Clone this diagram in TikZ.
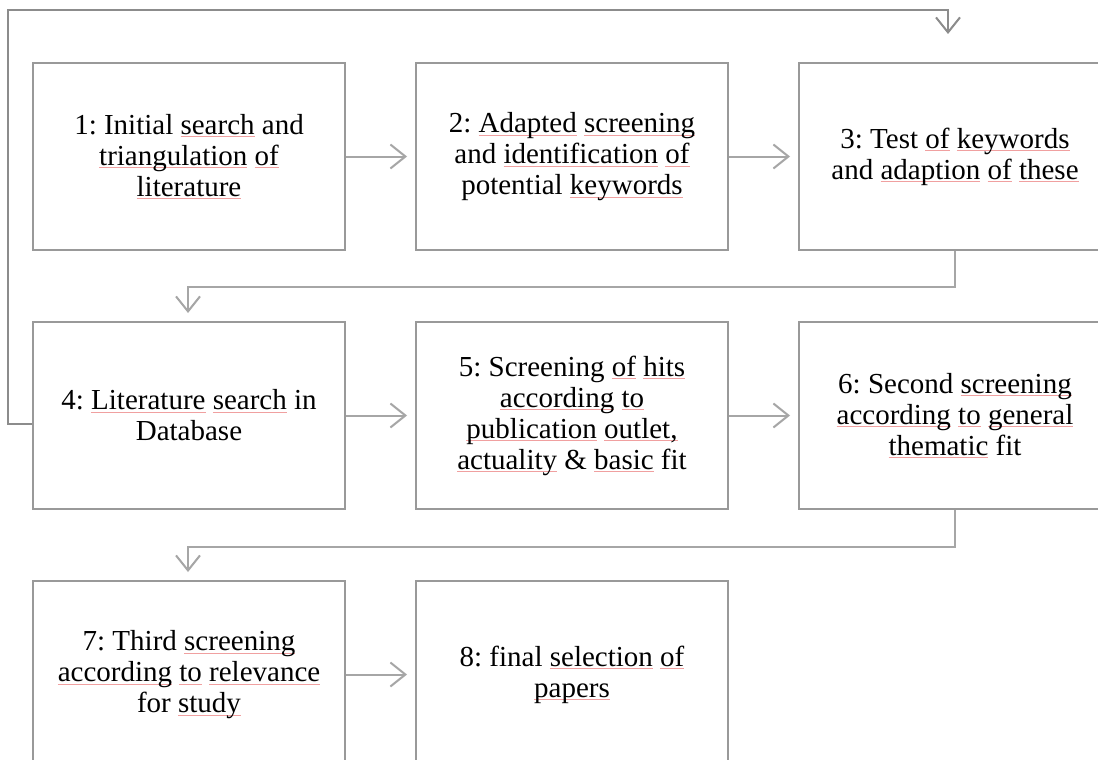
\documentclass[tikz,border=0pt]{standalone}
\usepackage{fontspec}
\setmainfont{Liberation Serif}
\usetikzlibrary{arrows.meta}
\definecolor{boxgray}{RGB}{153,153,153}
\definecolor{arrgray}{RGB}{166,166,166}
\definecolor{loopgray}{RGB}{140,140,140}
\definecolor{spellred}{RGB}{240,160,160}
\newsavebox\wvlbox
\newcommand\wvl[1]{\leavevmode\sbox\wvlbox{#1}\rlap{\color{spellred}\rule[-3pt]{\wd\wvlbox}{0.8pt}}\usebox\wvlbox}
\tikzset{
  stepbox/.style={draw=boxgray, line width=2pt, minimum width=312pt, minimum height=187pt,
    inner sep=0pt, align=center, font=\fontsize{29}{31}\selectfont\frenchspacing, text=black},
  arr/.style={draw=arrgray, line width=2pt, -{Straight Barb[length=15pt,width=24pt]}},
  looparr/.style={draw=loopgray, line width=2pt, -{Straight Barb[length=15pt,width=24pt]}}
}
\begin{document}
\frenchspacing
\begin{tikzpicture}[x=1pt,y=-1pt]
\useasboundingbox (0,0) rectangle (1098,760);
\clip (0,0) rectangle (1098,760);
\fill[white] (0,0) rectangle (1098,760);
\node[stepbox] (b1) at (189,156.5) {1: Initial \wvl{search} and\\\wvl{triangulation} \wvl{of}\\\wvl{literature}};
\node[stepbox] (b2) at (572,156.5) {2: \wvl{Adapted} \wvl{screening}\\and \wvl{identification} \wvl{of}\\potential \wvl{keywords}};
\node[stepbox] (b3) at (955,156.5) {3: Test \wvl{of} \wvl{keywords}\\and \wvl{adaption} \wvl{of} \wvl{these}};
\node[stepbox] (b4) at (189,415.5) {4: \wvl{Literature} \wvl{search} in\\Database};
\node[stepbox] (b5) at (572,415.5) {5: Screening \wvl{of} \wvl{hits}\\\wvl{according} \wvl{to}\\\wvl{publication} \wvl{outlet,}\\\wvl{actuality} \& \wvl{basic} fit};
\node[stepbox] (b6) at (955,415.5) {6: Second \wvl{screening}\\\wvl{according} \wvl{to} \wvl{general}\\\wvl{thematic} fit};
\node[stepbox] (b7) at (189,674.5) {7: Third \wvl{screening}\\\wvl{according} \wvl{to} \wvl{relevance}\\for \wvl{study}};
\node[stepbox] (b8) at (572,674.5) {8: final \wvl{selection} \wvl{of}\\\wvl{papers}};
% horizontal arrows
\draw[arr] (b1.east) -- ([xshift=-8pt]b2.west);
\draw[arr] (b2.east) -- ([xshift=-8pt]b3.west);
\draw[arr] (b4.east) -- ([xshift=-8pt]b5.west);
\draw[arr] (b5.east) -- ([xshift=-8pt]b6.west);
\draw[arr] (b7.east) -- ([xshift=-8pt]b8.west);
% row transitions
\coordinate (t4) at ([xshift=-1pt,yshift=8pt]b4.north);
\coordinate (t7) at ([xshift=-1pt,yshift=8pt]b7.north);
\draw[arr] (b3.south) -- ++(0,36) -| (t4);
\draw[arr] (b6.south) -- ++(0,37) -| (t7);
% feedback loop
\coordinate (f0) at ([yshift=-8.5pt]b4.west);
\coordinate (fl) at (8,10);
\coordinate (t3) at ([xshift=-7pt,yshift=28pt]b3.north);
\draw[looparr] (f0) -| (fl) -| (t3);
\end{tikzpicture}
\end{document}
